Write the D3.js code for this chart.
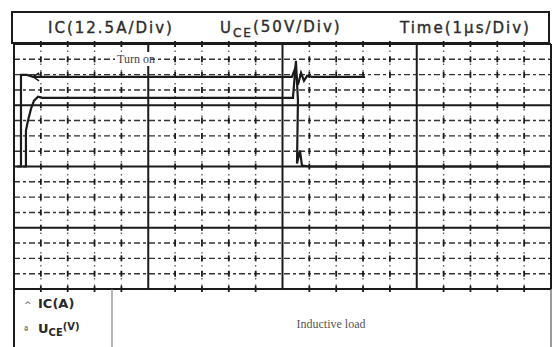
<!DOCTYPE html>
<html>
<head>
<meta charset="utf-8">
<script src="https://cdn.jsdelivr.net/npm/d3@7"></script>
<style>
  body { margin: 0; background: #fff; }
  svg { display: block; }
</style>
</head>
<body>
<svg id="chart" width="558" height="347"></svg>
<script>
// header labels
var headerLabels = [
  {main: 'IC', sub: '', rest: '(12.5A/Div)'},
  {main: 'U', sub: 'CE', rest: '(50V/Div)'},
  {main: 'Time', sub: '', rest: '(1µs/Div)'}
];
var legendLabels = [
  {main: 'IC', sub: '', rest: '(A)'},
  {main: 'U', sub: 'CE', rest: '(V)'}
];
var noteText = 'Inductive load';
var eventLabel = 'Turn on';

// grid: 4 x 4 major divisions, 5 minor per column, 4 minor per row
var majorCols = 4, minorPerCol = 5;
var majorRows = 4, minorPerRow = 4;

// trace IC (time in µs, current in A)
var icTime  = [0.022, 0.052, 0.052, 0.097, 0.142, 1.0, 2.07, 2.093, 2.115, 2.138, 2.16, 2.183, 2.22, 2.615];
var icValue = [0, 0, 18.7, 18.7, 18.3, 18.3, 18.3, 19.9, 16.7, 19.1, 17.5, 18.5, 18.3, 18.3];

// trace UCE (time in µs, voltage in V)
var uceTime  = [0.067, 0.089, 0.089, 0.104, 0.127, 0.149, 0.179, 0.209, 1.0, 2.078, 2.1, 2.115, 2.108, 2.13, 2.145, 2.205, 4.0];
var uceValue = [0, 0, 29.3, 37.4, 47.2, 53.7, 56.9, 56.1, 56.1, 56.1, 86.2, 53.7, 2.4, 13, 0.8, 0, 0];

window.onload = function () {
  var svg = d3.select('#chart');
  var ink = '#1b1b1b';
  var font = '"DejaVu Sans", sans-serif';

  var plot = {left: 14, right: 551, top: 44, bottom: 289};

  // scales
  var x = d3.scaleLinear().domain([0, 4]).range([plot.left, plot.right]);
  var yIC = d3.scaleLinear().domain([-25, 25]).range([plot.bottom, plot.top]);
  var yUCE = d3.scaleLinear().domain([-100, 100]).range([plot.bottom, plot.top]);
  var xg = d3.scaleLinear().domain([0, majorCols * minorPerCol]).range([plot.left, plot.right]);
  var yg = d3.scaleLinear().domain([0, majorRows * minorPerRow]).range([plot.top, plot.bottom]);

  ///////////////////////
  // HEADER
  //
  svg.append('rect')
    .attr('x', 12).attr('y', 12).attr('width', 537).attr('height', 31)
    .attr('fill', 'none').attr('stroke', ink).attr('stroke-width', 2);

  var headX = [48, 220, 400];
  headerLabels.forEach(function (d, i) {
    var t = svg.append('text')
      .attr('x', headX[i]).attr('y', 33)
      .attr('font-family', font).attr('font-size', 15)
      .attr('letter-spacing', 2)
      .attr('stroke', '#333').attr('stroke-width', 0.4)
      .attr('fill', '#2a2a2a');
    t.append('tspan').text(d.main);
    if (d.sub) t.append('tspan').attr('dy', 4).attr('font-size', 12).text(d.sub);
    t.append('tspan').attr('dy', d.sub ? -5 : 0).text(d.rest);
  });

  ///////////////////////
  // GRID
  //
  var g = svg.append('g');
  var vMinor = d3.range(1, majorCols * minorPerCol).filter(function (j) { return j % minorPerCol !== 0; });
  var hMinor = d3.range(1, majorRows * minorPerRow).filter(function (i) { return i % minorPerRow !== 0; });

  g.selectAll('line.hminor').data(hMinor).enter().append('line')
    .attr('class', 'hminor')
    .attr('x1', plot.left).attr('x2', plot.right)
    .attr('y1', yg).attr('y2', yg)
    .attr('stroke', '#333').attr('stroke-width', 1.4)
    .attr('stroke-dasharray', '6,3,3,3');

  g.selectAll('line.vminor').data(vMinor).enter().append('line')
    .attr('class', 'vminor')
    .attr('x1', xg).attr('x2', xg)
    .attr('y1', plot.top).attr('y2', plot.bottom)
    .attr('stroke', '#555').attr('stroke-width', 1.3)
    .attr('stroke-dasharray', '1.5,5');

  // small ticks where the minor verticals cross each horizontal line
  var cross = [];
  vMinor.forEach(function (j) {
    d3.range(0, majorRows * minorPerRow + 1).forEach(function (i) { cross.push([j, i]); });
  });
  g.selectAll('line.tick').data(cross).enter().append('line')
    .attr('class', 'tick')
    .attr('x1', function (d) { return xg(d[0]); }).attr('x2', function (d) { return xg(d[0]); })
    .attr('y1', function (d) { return yg(d[1]) - 3; }).attr('y2', function (d) { return yg(d[1]) + 3; })
    .attr('stroke', ink).attr('stroke-width', 1.8);

  g.selectAll('line.hmajor').data(d3.range(0, majorRows + 1)).enter().append('line')
    .attr('x1', plot.left).attr('x2', plot.right)
    .attr('y1', function (i) { return yg(i * minorPerRow); })
    .attr('y2', function (i) { return yg(i * minorPerRow); })
    .attr('stroke', ink).attr('stroke-width', 2);

  g.selectAll('line.vmajor').data(d3.range(0, majorCols + 1)).enter().append('line')
    .attr('x1', function (j) { return xg(j * minorPerCol); })
    .attr('x2', function (j) { return xg(j * minorPerCol); })
    .attr('y1', plot.top).attr('y2', plot.bottom)
    .attr('stroke', ink).attr('stroke-width', 2);

  ///////////////////////
  // TRACES
  //
  var icLine = d3.line()
    .x(function (d, i) { return x(icTime[i]); })
    .y(function (d) { return yIC(d); });
  var uceLine = d3.line()
    .x(function (d, i) { return x(uceTime[i]); })
    .y(function (d) { return yUCE(d); });

  svg.append('path').attr('d', icLine(icValue))
    .attr('fill', 'none').attr('stroke', ink).attr('stroke-width', 2.2);
  svg.append('path').attr('d', uceLine(uceValue))
    .attr('fill', 'none').attr('stroke', ink).attr('stroke-width', 2.2);

  // channel marker at start of IC trace
  var mx = x(icTime[4]), my = yIC(icValue[4]);
  svg.append('path')
    .attr('d', 'M' + (mx + 6) + ',' + (my - 4) + 'L' + mx + ',' + my + 'L' + (mx + 6) + ',' + (my + 4))
    .attr('fill', 'none').attr('stroke', ink).attr('stroke-width', 1.5);

  // event label
  svg.append('rect').attr('x', 115).attr('y', 52).attr('width', 36).attr('height', 14).attr('fill', '#fff');
  svg.append('text').attr('x', 117).attr('y', 63)
    .attr('font-family', '"Liberation Serif", serif').attr('font-size', 12)
    .attr('fill', '#444').text(eventLabel);

  ///////////////////////
  // LEGEND
  //
  var leg = svg.append('g');
  leg.append('line').attr('x1', plot.left).attr('x2', plot.left).attr('y1', plot.bottom).attr('y2', 347)
    .attr('stroke', ink).attr('stroke-width', 2);
  leg.append('line').attr('x1', plot.right).attr('x2', plot.right).attr('y1', plot.bottom).attr('y2', 347)
    .attr('stroke', '#555').attr('stroke-width', 1.2);
  leg.append('line').attr('x1', 112).attr('x2', 112).attr('y1', plot.bottom).attr('y2', 347)
    .attr('stroke', '#888').attr('stroke-width', 1.2);

  var markers = ['^', 'ª'];
  legendLabels.forEach(function (d, i) {
    var ly = 308 + i * 25;
    leg.append('text').attr('x', 24).attr('y', ly)
      .attr('font-family', font).attr('font-size', 9).attr('fill', '#555').text(markers[i]);
    var t = leg.append('text').attr('x', 38).attr('y', ly)
      .attr('font-family', font).attr('font-size', 13).attr('font-weight', 'bold').attr('fill', '#2a2a2a');
    t.append('tspan').text(d.main);
    if (d.sub) t.append('tspan').attr('dy', 3).attr('font-size', 10).text(d.sub);
    t.append('tspan').attr('dy', d.sub ? -6 : 0).attr('font-size', d.sub ? 10 : 13).text(d.rest);
  });

  leg.append('text').attr('x', 331).attr('y', 328).attr('text-anchor', 'middle')
    .attr('font-family', '"Liberation Serif", serif').attr('font-size', 12)
    .attr('fill', '#555').text(noteText);
};
</script>
</body>
</html>
